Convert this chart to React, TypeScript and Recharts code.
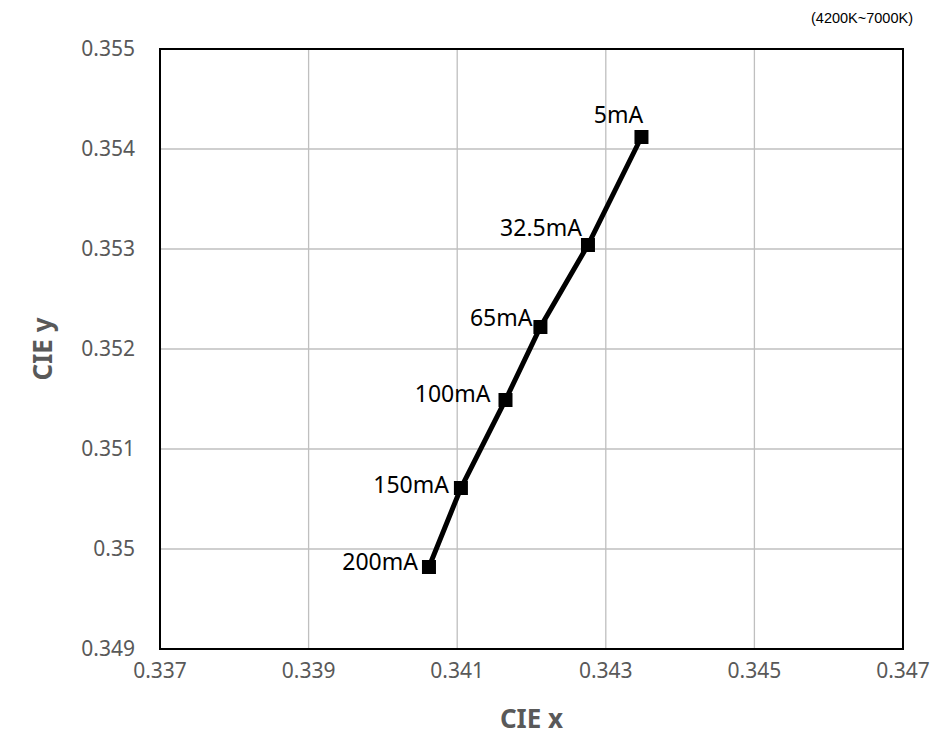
import * as React from "react";
import {
  ScatterChart,
  Scatter,
  XAxis,
  YAxis,
  CartesianGrid,
  ReferenceArea,
} from "recharts";

// CIE x / y chromaticity shift vs forward current
const currents = ["5mA", "32.5mA", "65mA", "100mA", "150mA", "200mA"];
const cieX = [0.34348, 0.34276, 0.34212, 0.34165, 0.34105, 0.34062];
const cieY = [0.35412, 0.35304, 0.35222, 0.35149, 0.35061, 0.34982];

const xTicks = [0.337, 0.339, 0.341, 0.343, 0.345, 0.347];
const yTicks = [0.349, 0.35, 0.351, 0.352, 0.353, 0.354, 0.355];

// label nudges relative to each marker (dx, dy, anchor)
const labelOffsets: [number, number, string][] = [
  [-23, -23, "middle"],
  [-6, -18, "end"],
  [-8, -10, "end"],
  [-15, -7, "end"],
  [-12, -4, "end"],
  [-11, -6, "end"],
];

const points = currents.map((label, i) => ({ x: cieX[i], y: cieY[i], label }));

const TICK_FONT = "'Noto Sans', sans-serif";
const GREY = "#595959";

function Marker(props: any) {
  const { cx, cy, index } = props;
  const [dx, dy, anchor] = labelOffsets[index] ?? [-8, -6, "end"];
  return (
    <g>
      <rect x={cx - 7} y={cy - 7} width={14} height={14} fill="#000" />
      <text
        x={cx + dx}
        y={cy + dy}
        textAnchor={anchor}
        dominantBaseline="central"
        fontFamily={TICK_FONT}
        fontSize={23}
        fill="#000"
      >
        {props.payload?.label}
      </text>
    </g>
  );
}

export default function App() {
  const fmt = (v: number) => String(Number(v.toFixed(3)));
  return (
    <div style={{ position: "absolute", left: 0, top: 0, width: 937, height: 756, background: "#fff" }}>
      <ScatterChart
        width={937}
        height={756}
        margin={{ top: 49, right: 34, bottom: 17, left: 40 }}
      >
        <CartesianGrid stroke="#bfbfbf" strokeWidth={1.3} />
        <XAxis
          type="number"
          dataKey="x"
          domain={[0.337, 0.347]}
          ticks={xTicks}
          tickFormatter={fmt}
          allowDataOverflow
          height={90}
          tickSize={0}
          tickMargin={14}
          axisLine={false}
          tickLine={false}
          tick={{ fill: GREY, fontSize: 21, fontFamily: TICK_FONT }}
          label={{
            value: "CIE x",
            position: "insideBottom",
            offset: 11,
            fill: GREY,
            fontSize: 26,
            fontWeight: 700,
            fontFamily: TICK_FONT,
          }}
        />
        <YAxis
          type="number"
          dataKey="y"
          domain={[0.349, 0.355]}
          ticks={yTicks}
          tickFormatter={fmt}
          allowDataOverflow
          width={120}
          tickSize={0}
          tickMargin={25}
          axisLine={false}
          tickLine={false}
          tick={{ fill: GREY, fontSize: 21, fontFamily: TICK_FONT }}
          label={(p: any) => {
            const vb = p.viewBox || { x: 40, y: 49, width: 120, height: 600 };
            const lx = vb.x + 2;
            const ly = vb.y + vb.height / 2;
            return (
              <text
                x={lx}
                y={ly}
                transform={`rotate(-90, ${lx}, ${ly})`}
                textAnchor="middle"
                dominantBaseline="central"
                fill={GREY}
                fontSize={26}
                fontWeight={700}
                fontFamily={TICK_FONT}
              >
                CIE y
              </text>
            );
          }}
        />
        <ReferenceArea
          x1={0.337}
          x2={0.347}
          y1={0.349}
          y2={0.355}
          fill="none"
          fillOpacity={0}
          stroke="#000"
          strokeWidth={2}
        />
        <Scatter
          data={points}
          line={{ stroke: "#000", strokeWidth: 5 }}
          lineType="joint"
          shape={Marker}
          isAnimationActive={false}
        />
        <text
          x={913}
          y={18}
          textAnchor="end"
          dominantBaseline="central"
          fontFamily="'Liberation Sans', Arial, sans-serif"
          fontSize={14.5}
          fill="#000"
        >
          (4200K~7000K)
        </text>
      </ScatterChart>
    </div>
  );
}
